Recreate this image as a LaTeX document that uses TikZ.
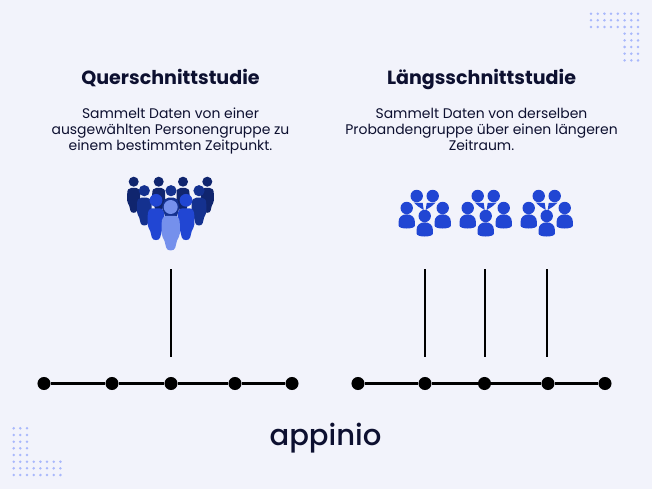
\documentclass[tikz,border=0pt]{standalone}
\usepackage{fontspec}
\setmainfont{Poppins}
\newfontfamily\logofont{Poppins Medium}
\definecolor{bg}{HTML}{F2F3FB}
\definecolor{ink}{HTML}{0D1030}
\definecolor{navy}{HTML}{10256E}
\definecolor{midblue}{HTML}{14318F}
\definecolor{royal}{HTML}{2146D3}
\definecolor{pale}{HTML}{7590EC}
\definecolor{dotc}{HTML}{A9B8FB}
\tikzset{
  titletext/.style={font=\fontsize{14.3pt}{17pt}\selectfont\bfseries, text=ink, anchor=base, inner sep=0},
  bodytext/.style={font=\fontsize{10.45pt}{12pt}\selectfont, text=ink, anchor=base, inner sep=0},
  tick/.style={circle, fill=black, minimum size=9.8pt, inner sep=0},
  axis/.style={black, line width=2.6pt},
  marker/.style={black, line width=1.9pt},
}
% tall person: cx, head cy, head r, colour
\newcommand{\tallperson}[4]{%
  \fill[#4] (#1,#2) circle[radius=#3];
  \fill[#4,shift={(#1,#2)},x=#3*0.75pt,y=-#3*0.75pt]
    (-1.3,2.4) .. controls (-1.3,1.6) and (-1,1.25) .. (-0.5,1.25)
    -- (0.5,1.25) .. controls (1,1.25) and (1.3,1.6) .. (1.3,2.4)
    -- (1.3,3.8) .. controls (1.3,4.3) and (1,4.4) .. (0.9,4.8)
    -- (0.65,5.8) .. controls (0.55,6.35) and (-0.55,6.35) .. (-0.65,5.8)
    -- (-0.9,4.8) .. controls (-1,4.4) and (-1.3,4.3) .. (-1.3,3.8) -- cycle;
}
% dome person: cx, head cy
\newcommand{\domeperson}[2]{%
  \fill[royal] (#1,#2) circle[radius=6.2];
  \fill[royal,shift={(#1,#2)}]
    (-8.2,17.5) -- (-8.2,14) .. controls (-8.2,9) and (-4.5,6.3) .. (0,6.3)
    .. controls (4.5,6.3) and (8.2,9) .. (8.2,14) -- (8.2,17.5)
    .. controls (8.2,21.5) and (-8.2,21.5) .. (-8.2,17.5) -- cycle;
}
\newcommand{\groupof}[1]{%
  \begin{scope}[shift={(#1,0)}]
    \domeperson{-18}{208}\domeperson{18}{208}
    \fill[royal] (-8,196) circle[radius=6.2];
    \fill[royal] (8,196) circle[radius=6.2];
    \fill[royal] (-11,202.5) -- (-2,203) -- (-1,210) -- (-6.5,206.5) -- cycle;
    \fill[royal] (11,202.5) -- (2,203) -- (1,210) -- (6.5,206.5) -- cycle;
    \domeperson{0}{216}
  \end{scope}%
}
\begin{document}
\begin{tikzpicture}[x=0.75pt,y=-0.75pt]
\useasboundingbox (0,0) rectangle (652,489);
\fill[bg] (0,0) rectangle (652,489);

% dot grids
\foreach \c in {591,597.7,604.4,611,617.8,624.6,631.3,638}
  \foreach \r in {13.7,20.3,27} \fill[dotc] (\c,\r) circle[radius=1.4];
\foreach \c in {624.6,631.3,638}
  \foreach \r in {33.7,40.4,47,53.7,60.4} \fill[dotc] (\c,\r) circle[radius=1.4];
\foreach \c in {13.7,20.3,27}
  \foreach \r in {428.3,435,441.7,448.3,455} \fill[dotc] (\c,\r) circle[radius=1.4];
\foreach \c in {13.7,20.3,27,33.7,40.4,47,53.7,60.4}
  \foreach \r in {461.7,468.3,475} \fill[dotc] (\c,\r) circle[radius=1.4];

% headings and text
\node[titletext] (titleL) at (170.5,84) {Querschnittstudie};
\node[titletext] (titleR) at (481.5,84) {Längsschnittstudie};
\node[bodytext] (l1) at (170.5,118) {Sammelt Daten von einer};
\node[bodytext] (l2) at (170.5,134) {ausgewählten Personengruppe zu};
\node[bodytext] (l3) at (170.5,150) {einem bestimmten Zeitpunkt.};
\node[bodytext] (r1) at (481.5,118) {Sammelt Daten von derselben};
\node[bodytext] (r2) at (481.5,134) {Probandengruppe über einen längeren};
\node[bodytext] (r3) at (481.5,150) {Zeitraum.};

% crowd
\tallperson{133.7}{181.7}{5}{navy}
\tallperson{158.7}{181.7}{5}{navy}
\tallperson{183}{181.7}{5}{navy}
\tallperson{207.3}{181.7}{5}{navy}
\tallperson{144.3}{190.7}{5.6}{midblue}
\tallperson{171}{190.7}{5.6}{midblue}
\tallperson{199}{190.7}{5.6}{midblue}
\tallperson{156}{200.3}{6.4}{royal}
\tallperson{186}{200.3}{6.4}{royal}
\fill[midblue] (170.7,207) circle[radius=8.6];
\tallperson{170.7}{207}{7}{pale}

% small groups
\groupof{424.7}\groupof{485.7}\groupof{546.7}

% timelines
\foreach \n/\x in {a/44,b/112,c/171,d/235,e/292,f/358,g/425,h/484.5,i/548,j/605}
  \node[tick] (t\n) at (\x,383.5) {};
\draw[axis] (ta) -- (tb) -- (tc) -- (td) -- (te);
\draw[axis] (tf) -- (tg) -- (th) -- (ti) -- (tj);

% time markers
\coordinate (m1) at (170.8,269); \coordinate (n1) at (170.8,357);
\coordinate (m2) at (424.8,269); \coordinate (n2) at (424.8,357);
\coordinate (m3) at (484.8,269); \coordinate (n3) at (484.8,357);
\coordinate (m4) at (546.8,269); \coordinate (n4) at (546.8,357);
\draw[marker] (m1) -- (n1);
\draw[marker] (m2) -- (n2);
\draw[marker] (m3) -- (n3);
\draw[marker] (m4) -- (n4);

% logo
\node[font=\logofont\fontsize{21.8pt}{26pt}\selectfont, text=ink, inner sep=0, anchor=base] (logo) at (325.5,445) {appinio};
\end{tikzpicture}
\end{document}
